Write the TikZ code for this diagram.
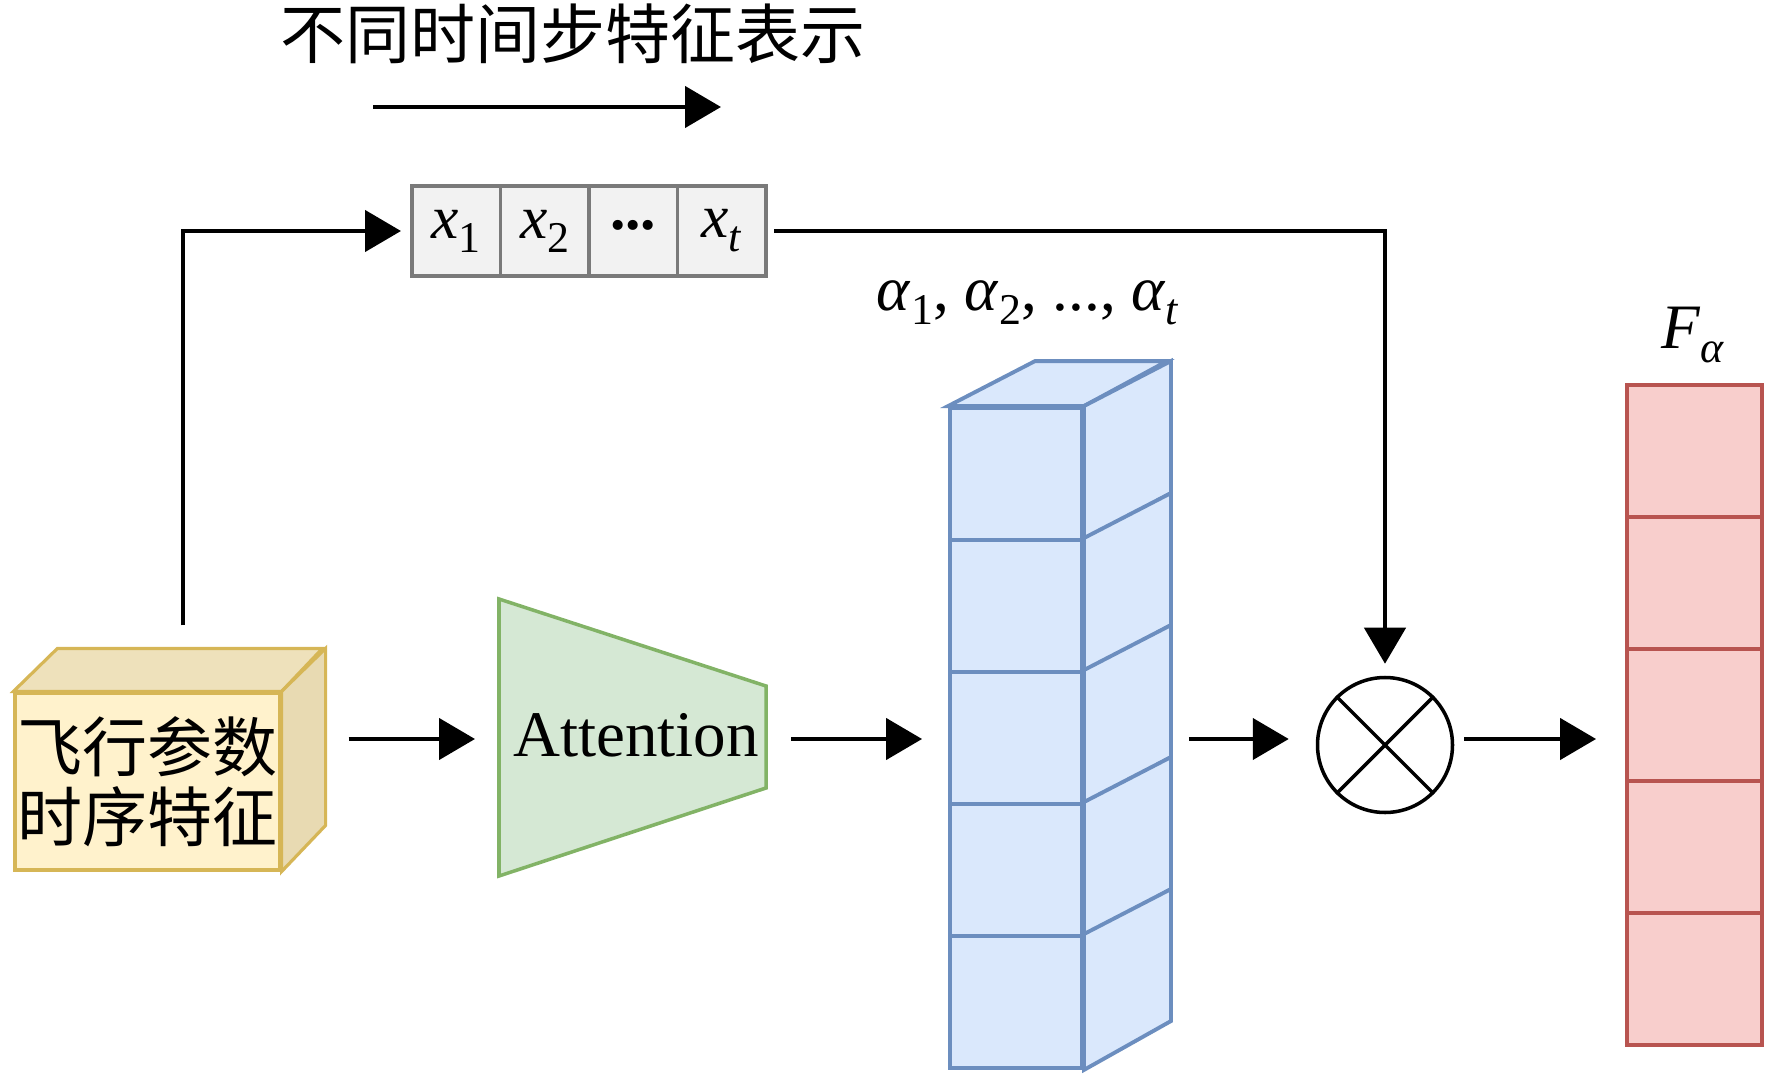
\documentclass[tikz,border=0pt]{standalone}
\usepackage{fontspec}
\setmainfont{Liberation Serif}
\newfontfamily\cjk{Noto Sans CJK SC}
\usetikzlibrary{arrows.meta,positioning}
\definecolor{featfill}{HTML}{FFF2CC}
\definecolor{feattop}{HTML}{EEE1BB}
\definecolor{featside}{HTML}{E8DAB2}
\definecolor{featline}{HTML}{D6B656}
\definecolor{attfill}{HTML}{D5E8D4}
\definecolor{attline}{HTML}{82B366}
\definecolor{wfill}{HTML}{DAE8FC}
\definecolor{wline}{HTML}{6C8EBF}
\definecolor{ffill}{HTML}{F8CECC}
\definecolor{fline}{HTML}{B85450}
\definecolor{seqfill}{HTML}{F2F2F2}
\definecolor{seqline}{HTML}{7A7A7A}
\newcommand{\xsub}[2]{\textit{#1}\raisebox{-0.5ex}{\fontsize{12.5}{12.5}\selectfont#2}}
\begin{document}
\begin{tikzpicture}[
	arr/.style={line width=1.3pt,-{Triangle[length=0.36cm,width=0.41cm]}},
	featbox/.style={draw=featline,fill=featfill,line width=0.9pt,minimum width=2.65cm,minimum height=1.77cm,inner sep=0pt,align=center,font=\cjk\fontsize{18.5}{20}\selectfont},
	wcell/.style={draw=wline,fill=wfill,line width=1.1pt,minimum width=1.32cm,minimum height=1.32cm,inner sep=0pt},
	fcell/.style={draw=fline,fill=ffill,line width=1.1pt,minimum width=1.35cm,minimum height=1.32cm,inner sep=0pt},
	seqcell/.style={draw=seqline,fill=seqfill,line width=1pt,minimum width=0.885cm,minimum height=0.90cm,inner sep=0pt,outer sep=0pt,font=\fontsize{17.5}{20}\selectfont},
	lbl/.style={font=\fontsize{18}{20}\selectfont}]
	\useasboundingbox (0,0) rectangle (17.72,10.73);
	%TITLE
	\node[font=\cjk\fontsize{18.5}{20}\selectfont] (title) at (5.73,10.39) {不同时间步特征表示};
	\coordinate (ts) at (3.73,9.66);
	\coordinate (te) at (7.21,9.66);
	\draw[arr] (ts) -- (te);
	%INPUT
	\node[featbox] (feat) at (1.475,2.915) {飞行参数\\时序特征};
	\draw[draw=featline,fill=feattop,line width=0.9pt] (feat.north west) -- ++(0.44,0.43) -- ++(2.65,0) -- (feat.north east) -- cycle;
	\draw[draw=featline,fill=featside,line width=0.9pt] (feat.north east) -- ++(0.44,0.43) -- ++(0,-1.77) -- (feat.south east) -- cycle;
	%SEQUENCE
	\node[seqcell] (x1) at (4.5625,8.42) {\xsub{x}{1}};
	\node[seqcell,right=0pt of x1] (x2) {\xsub{x}{2}};
	\node[seqcell,right=0pt of x2] (xd) {\raisebox{0.45ex}{\textbf{...}}};
	\node[seqcell,right=0pt of xd] (xt) {\xsub{x}{\textit{t}}};
	%ATTENTION
	\coordinate (attL) at (4.99,3.34);
	\coordinate (attR) at (7.66,3.34);
	\draw[draw=attline,fill=attfill,line width=1pt] (4.99,4.74) -- (7.66,3.87) -- (7.66,2.85) -- (4.99,1.97) -- cycle;
	\node[font=\fontsize{18.5}{20}\selectfont] (att) at (6.36,3.38) {Attention};
	%WEIGHTS
	\foreach \i in {1,...,5}
		\node[wcell] (a\i) at (10.16,{6.65-0.66-(\i-1)*1.32}) {};
	\draw[draw=wline,fill=wfill,line width=1.1pt] (a1.north west) -- ++(0.87,0.45) -- ++(1.32,0) -- (a1.north east) -- cycle;
	\foreach \i in {1,...,5}
		\draw[draw=wline,fill=wfill,line width=1.1pt] (a\i.north east) -- ++(0.87,0.45) -- ++(0,-1.32) -- (a\i.south east) -- cycle;
	\node[lbl] (alab) at (10.28,7.70) {\xsub{\textit{α}}{1}, \xsub{\textit{α}}{2}, ..., \xsub{\textit{α}}{\textit{t}}};
	%PRODUCT
	\node[draw,circle,line width=1pt,minimum size=1.35cm,inner sep=0pt] (mul) at (13.85,3.28) {};
	\draw[line width=1pt] (mul.north west) -- (mul.south east);
	\draw[line width=1pt] (mul.north east) -- (mul.south west);
	%OUTPUT
	\foreach \i in {1,...,5}
		\node[fcell] (f\i) at (16.945,{6.88-0.66-(\i-1)*1.32}) {};
	\node[lbl] (flab) at (16.93,7.38) {\xsub{\textit{F}}{\textit{α}}};
	%ARROWS
	\draw[arr,shorten <=0.66cm,shorten >=0.11cm] ([xshift=0.355cm]feat.north) |- (x1.west);
	\draw[arr,shorten <=0.08cm,shorten >=0.12cm] (xt.east) -| (mul.north);
	\draw[arr,shorten <=0.67cm,shorten >=0.24cm] (feat.east |- attL) -- (attL);
	\draw[arr,shorten <=0.25cm,shorten >=0.26cm] (attR) -- (a3.west |- attR);
	\draw[arr,shorten <=1.05cm,shorten >=0.27cm] (a3.east |- attR) -- (mul.west |- attR);
	\draw[arr,shorten <=0.10cm,shorten >=0.29cm] (mul.east |- attR) -- (f3.west |- attR);
\end{tikzpicture}
\end{document}
